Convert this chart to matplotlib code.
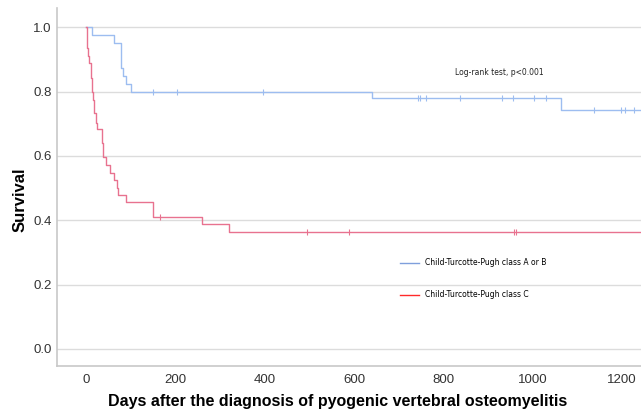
import numpy as np
import matplotlib.pyplot as plt
from matplotlib.lines import Line2D

# Kaplan-Meier steps (days, survival after the step)
ab_times = [0, 14, 63, 78, 83, 89, 101, 640, 1062, 1300]
ab_surv = [1.0, 0.975, 0.95, 0.875, 0.85, 0.825, 0.80, 0.78, 0.743, 0.743]
ab_cens_t = [150, 204, 395, 743, 747, 761, 838, 930, 956, 1003, 1030,
             1136, 1198, 1207, 1227]

c_times = [0, 1.5, 5, 7.5, 10.5, 14, 16, 18.6, 22, 25, 36.5, 39, 44, 54, 63,
           70, 72, 90, 149, 259, 320, 1300]
c_surv = [1.0, 0.936, 0.91, 0.889, 0.843, 0.80, 0.775, 0.734, 0.703, 0.685,
          0.64, 0.596, 0.571, 0.547, 0.524, 0.50, 0.479, 0.457, 0.41, 0.387,
          0.364, 0.364]
c_cens_t = [166, 494, 589, 958, 962]

labels = ['Child-Turcotte-Pugh class A or B', 'Child-Turcotte-Pugh class C']
xticks = [0, 200, 400, 600, 800, 1000, 1200]
yticks = [0.0, 0.2, 0.4, 0.6, 0.8, 1.0]

blue = '#9dbdf0'
red = '#e8728f'


def surv_at(times, surv, t):
    idx = np.searchsorted(times, t, side='right') - 1
    return np.asarray(surv)[idx]


fig = plt.figure(figsize=(6.41, 4.09), dpi=100)
ax = fig.add_axes([57 / 641, 43 / 409, 584 / 641, 358 / 409])

ax.yaxis.grid(True, color='#dcdcdc', lw=1.0)
ax.set_axisbelow(True)

ax.step(ab_times, ab_surv, where='post', color=blue, lw=1.0)
ax.step(c_times, c_surv, where='post', color=red, lw=1.0)
ax.plot(ab_cens_t, surv_at(ab_times, ab_surv, ab_cens_t), ls='none',
        marker='|', ms=4, mew=0.8, color=blue)
ax.plot(c_cens_t, surv_at(c_times, c_surv, c_cens_t), ls='none',
        marker='|', ms=4, mew=0.8, color=red)

ax.set_xlim(-65, 1242)
ax.set_ylim(-0.053, 1.06)
ax.set_xticks(xticks)
ax.set_yticks(yticks)
ax.set_yticklabels(['%.1f' % v for v in yticks])
ax.tick_params(length=0, labelsize=9.5, labelcolor='#333333')
ax.tick_params(axis='y', pad=4)
ax.tick_params(axis='x', pad=6)
for lab in ax.get_xticklabels() + ax.get_yticklabels():
    lab.set_family('Liberation Sans')

for s in ['top', 'right']:
    ax.spines[s].set_visible(False)
for s in ['left', 'bottom']:
    ax.spines[s].set_color('#c8c8c8')
    ax.spines[s].set_linewidth(1.2)

ax.set_xlabel('Days after the diagnosis of pyogenic vertebral osteomyelitis',
              fontsize=11.5, fontweight='bold', family='Liberation Sans')
ax.xaxis.set_label_coords(0.481, -0.078)
ax.set_ylabel('Survival', fontsize=12, fontweight='bold',
              family='Liberation Sans')
ax.yaxis.set_label_coords(-0.05, 0.464)

ax.text(925, 0.86, 'Log-rank test, p<0.001', ha='center', va='center',
        fontsize=5.5, color='#222222')

handles = [Line2D([], [], color='#7f9fdc', lw=1.0),
           Line2D([], [], color='#ff2a2a', lw=1.0)]
ax.legend(handles, labels, loc='center left', bbox_to_anchor=(0.587, 0.2435),
          frameon=False, fontsize=5.5, handlelength=2.5, handletextpad=0.75,
          labelspacing=3.0, borderpad=0, borderaxespad=0)

fig.savefig('out.png', dpi=100)
